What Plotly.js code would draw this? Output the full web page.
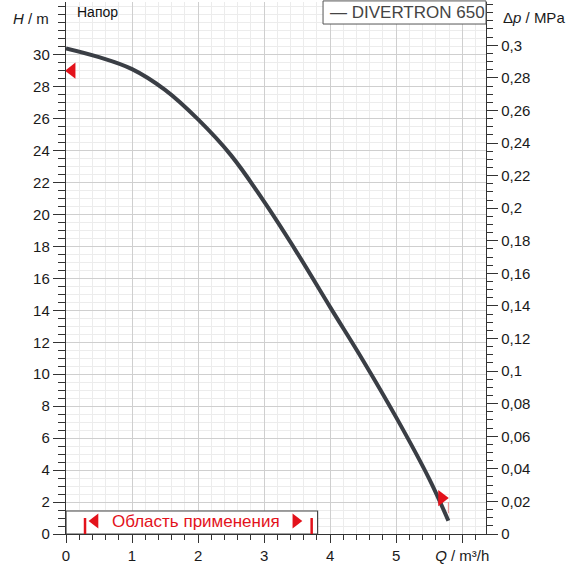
<!DOCTYPE html>
<html>
<head>
<meta charset="utf-8">
<script src="https://cdn.plot.ly/plotly-3.0.1.min.js"></script>
<style>html,body{margin:0;padding:0;background:#fff;}#chart{width:570px;height:570px;}</style>
</head>
<body>
<div id="chart"></div>
<script>
// Pump curve DIVERTRON 650: flow Q (m³/h) vs head H (m)
const flowQ = [0, 0.5, 1, 1.5, 2, 2.5, 3, 3.5, 4, 4.5, 5, 5.5, 5.79];
const headH = [30.4, 29.85, 29.1, 27.8, 25.95, 23.7, 20.8, 17.6, 14.2, 10.85, 7.3, 3.45, 0.83];

// Operating limit markers (red triangles on the curve)
const limitQ = [0.09, 5.69];
const limitH = [29, 2.25];

// Application range (Область применения)
const appRangeQ = [0.288, 3.72];
const appBoxQ = [0, 3.81];
const appBoxH = 1.44;
const appArrowQ = [0.44, 3.48];
const appArrowH = [0.81, 0.81];

// Axis ticks
const xTickVals = [0, 1, 2, 3, 4, 5, 6];
const xTickText = ['0', '1', '2', '3', '4', '5', '<i>Q</i> / m³/h'];
const yTickVals = [0, 2, 4, 6, 8, 10, 12, 14, 16, 18, 20, 22, 24, 26, 28, 30];
const y2TickVals = [0, 0.02, 0.04, 0.06, 0.08, 0.1, 0.12, 0.14, 0.16, 0.18, 0.2, 0.22, 0.24, 0.26, 0.28, 0.3];
const y2TickText = ['0', '0,02', '0,04', '0,06', '0,08', '0,1', '0,12', '0,14', '0,16', '0,18', '0,2', '0,22', '0,24', '0,26', '0,28', '0,3'];

const M_PER_MPA = 101.97;
const H_MAX = 33.3;
const RED = '#e3121b';
const FONT = 'Liberation Sans, Arial, sans-serif';

const traces = [
  {
    x: flowQ, y: headH, type: 'scatter', mode: 'lines',
    line: {color: '#3a3e45', width: 4, shape: 'spline', smoothing: 1.1},
    hoverinfo: 'skip', showlegend: false
  },
  {
    x: flowQ, y: headH.map(h => h / M_PER_MPA), yaxis: 'y2', type: 'scatter', mode: 'lines',
    line: {width: 0}, opacity: 0, hoverinfo: 'skip', showlegend: false
  },
  {
    x: limitQ, y: limitH, type: 'scatter', mode: 'markers',
    marker: {symbol: ['triangle-left', 'triangle-right'], size: 14, color: RED},
    hoverinfo: 'skip', showlegend: false
  },
  {
    x: appArrowQ, y: appArrowH, type: 'scatter', mode: 'markers',
    marker: {symbol: ['triangle-left', 'triangle-right'], size: 13, color: RED},
    hoverinfo: 'skip', showlegend: false, cliponaxis: false
  }
];

const layout = {
  width: 570, height: 570,
  margin: {l: 66, r: 84, t: 2, b: 36},
  paper_bgcolor: '#fff', plot_bgcolor: '#fff',
  font: {family: FONT, size: 15, color: '#1a1a1a'},
  showlegend: false,
  xaxis: {
    range: [0, 6.36], tickmode: 'array', tickvals: xTickVals, ticktext: xTickText,
    ticks: 'outside', ticklen: 8, tickcolor: '#333', tickwidth: 1,
    showline: true, linecolor: '#333', linewidth: 1.2,
    showgrid: true, gridcolor: '#cfcfcf', gridwidth: 1, zeroline: false,
    minor: {tickmode: 'linear', tick0: 0, dtick: 0.2, ticks: 'outside', ticklen: 5, tickcolor: '#333',
            showgrid: true, gridcolor: '#ececec', gridwidth: 1},
    tickfont: {size: 15, family: FONT, color: '#1a1a1a'}, fixedrange: true
  },
  yaxis: {
    range: [0, H_MAX], tickmode: 'array', tickvals: yTickVals,
    ticks: 'outside', ticklen: 12, tickcolor: '#333', tickwidth: 1,
    showline: true, linecolor: '#333', linewidth: 1.2,
    showgrid: true, gridcolor: '#cfcfcf', gridwidth: 1, zeroline: false,
    minor: {tickmode: 'linear', tick0: 0, dtick: 0.5, ticks: 'outside', ticklen: 7, tickcolor: '#333',
            showgrid: true, gridcolor: '#ececec', gridwidth: 1},
    tickfont: {size: 15, family: FONT, color: '#1a1a1a'}, fixedrange: true
  },
  yaxis2: {
    overlaying: 'y', side: 'right', anchor: 'x',
    range: [0, H_MAX / M_PER_MPA], tickmode: 'array', tickvals: y2TickVals, ticktext: y2TickText,
    ticks: 'outside', ticklen: 11, tickcolor: '#333', tickwidth: 1,
    showline: true, linecolor: '#333', linewidth: 1.2,
    showgrid: false, zeroline: false,
    minor: {tickmode: 'linear', tick0: 0, dtick: 0.005, ticks: 'outside', ticklen: 6, tickcolor: '#333', showgrid: false},
    tickfont: {size: 15, family: FONT, color: '#1a1a1a'}, fixedrange: true
  },
  shapes: [
    {type: 'rect', xref: 'x', yref: 'y', x0: appBoxQ[0], x1: appBoxQ[1], y0: 0, y1: appBoxH,
     fillcolor: '#ffffff', line: {color: '#444', width: 1.2}, layer: 'between'},
    {type: 'line', xref: 'x', yref: 'y', x0: appRangeQ[0], x1: appRangeQ[0], y0: 0, y1: 1.0,
     line: {color: RED, width: 2.5}, layer: 'between'},
    {type: 'line', xref: 'x', yref: 'y', x0: appRangeQ[1], x1: appRangeQ[1], y0: 0, y1: 1.0,
     line: {color: RED, width: 2.5}, layer: 'between'},
    {type: 'line', xref: 'x', yref: 'y', x0: flowQ[flowQ.length - 1], x1: flowQ[flowQ.length - 1], y0: 1.3, y1: 2.0,
     line: {color: '#e88a8a', width: 1}, layer: 'above'},
    {type: 'rect', xref: 'paper', yref: 'paper', x0: 0.612, x1: 1.0, y0: 0.9586, y1: 1.002,
     fillcolor: '#ffffff', line: {color: '#555', width: 1}, layer: 'above'}
  ],
  annotations: [
    {xref: 'paper', yref: 'paper', x: (75 - 66) / 420, y: (534 - 12) / 532, xanchor: 'left', yanchor: 'middle',
     text: 'Напор', showarrow: false, font: {size: 14, family: FONT, color: '#111'}},
    {xref: 'paper', yref: 'paper', x: (328 - 66) / 420, y: (534 - 12.5) / 532, xanchor: 'left', yanchor: 'middle',
     text: '— DIVERTRON 650', showarrow: false, font: {size: 17, family: FONT, color: '#444'}},
    {xref: 'paper', yref: 'paper', x: (31 - 66) / 420, y: (534 - 18) / 532, xanchor: 'center', yanchor: 'middle',
     text: '<i>H</i> / m', showarrow: false, font: {size: 15, family: FONT, color: '#1a1a1a'}},
    {xref: 'paper', yref: 'paper', x: (501 - 66) / 420, y: (534 - 17) / 532, xanchor: 'left', yanchor: 'middle',
     text: 'Δ<i>p</i> / MPa', showarrow: false, font: {size: 15, family: FONT, color: '#1a1a1a'}},
    {xref: 'x', yref: 'y', x: 1.97, y: 0.81, xanchor: 'center', yanchor: 'middle',
     text: 'Область применения', showarrow: false, font: {size: 17, family: FONT, color: RED}}
  ]
};

Plotly.newPlot('chart', traces, layout, {staticPlot: true, displayModeBar: false});
</script>
</body>
</html>
